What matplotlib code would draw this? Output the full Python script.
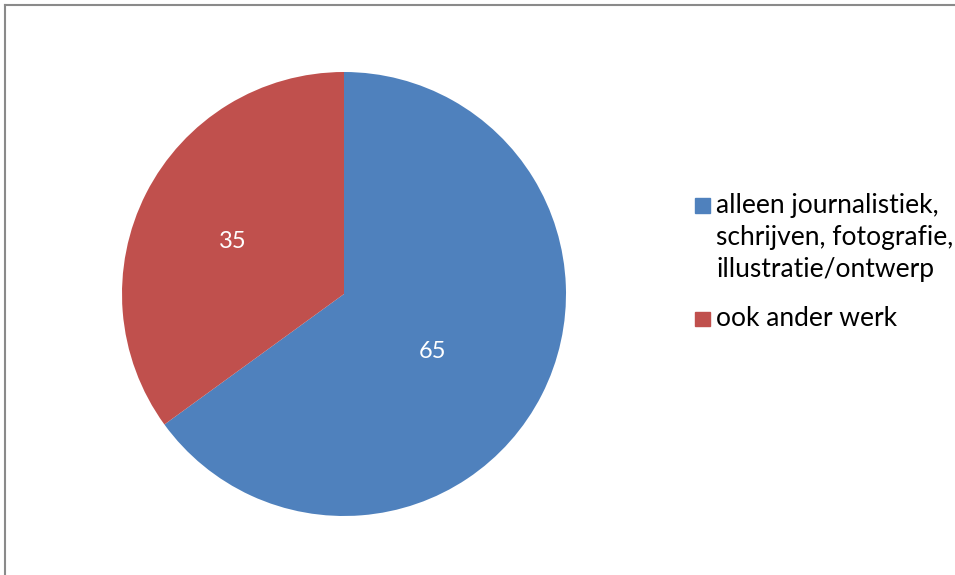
import matplotlib.pyplot as plt
from matplotlib.patches import Rectangle
from matplotlib.lines import Line2D

# Slice data
categories = ['alleen journalistiek,\nschrijven, fotografie,\nillustratie/ontwerp', 'ook ander werk']
values = [65, 35]
colors = ['#4F81BD', '#C0504D']

plt.rcParams['font.family'] = ['Lato', 'DejaVu Sans']

fig = plt.figure(figsize=(9.55, 5.75), dpi=100)
W, H = 955, 575

# Pie axes
ax = fig.add_axes([122 / W, 1 - 516 / H, 444 / W, 444 / H])
total = sum(values)
wedges, _, autotexts = ax.pie(values, colors=colors, startangle=90, counterclock=False,
                              autopct=lambda p: '%d' % round(p * total / 100),
                              pctdistance=0.5,
                              textprops=dict(color='white', fontsize=17))
# nudge value labels a little
autotexts[0].set_position((0.40, -0.26))
autotexts[1].set_position((-0.50, 0.235))
ax.set_xlim(-1, 1)
ax.set_ylim(-1, 1)
ax.set_aspect('equal')
ax.axis('off')

# Legend drawn by hand: square sits on the first line's baseline
baselines = [213, 326]
line_gap = 32
for base, label, c in zip(baselines, categories, colors):
    fig.add_artist(Rectangle((695 / W, 1 - base / H), 15 / W, 14.5 / H,
                             transform=fig.transFigure, color=c))
    for i, line in enumerate(label.split('\n')):
        fig.text(716 / W, 1 - (base + i * line_gap) / H, line, ha='left',
                 va='baseline', fontsize=19, color='black')

# Chart frame (top and left edges)
fig.add_artist(Line2D([5 / W, 1], [1 - 5 / H, 1 - 5 / H], transform=fig.transFigure,
                      color='#8a8a8a', lw=1.5))
fig.add_artist(Line2D([5 / W, 5 / W], [0, 1 - 5 / H], transform=fig.transFigure,
                      color='#8a8a8a', lw=1.5))

fig.savefig('out.png', dpi=100, facecolor='white')
